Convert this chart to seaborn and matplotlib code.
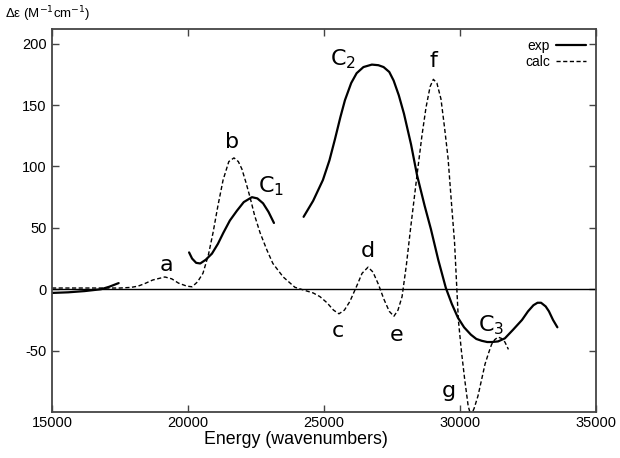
import numpy as np
import pandas as pd
import matplotlib
matplotlib.use("Agg")
import matplotlib.pyplot as plt
import seaborn as sns

# ---- data ----
exp_seg1_x = [15000, 15600, 16200, 16800, 17100, 17450]
exp_seg1_y = [-3, -2.5, -1.5, 0, 2, 5]

exp_seg2_x = [20040, 20150, 20300, 20450, 20650, 20880, 21100, 21300, 21540, 21800, 22050,
              22350, 22550, 22760, 22960, 23160]
exp_seg2_y = [30, 25, 21.5, 21, 24, 29, 37, 46, 56, 64, 71,
              75, 74, 70, 63, 54]

exp_seg3_x = [24250, 24600, 24960, 25200, 25400, 25600, 25770, 26000, 26200, 26450, 26760,
              27000, 27190, 27400, 27560, 27750, 27940, 28200, 28420, 28700, 28930, 29200,
              29480, 29700, 29920, 30150, 30400, 30600, 30800, 31000, 31170, 31400, 31650,
              31950, 32280, 32500, 32700, 32850, 32980, 33150, 33270, 33420, 33580]
exp_seg3_y = [59, 72, 89, 105, 122, 140, 154, 168, 176, 181, 183,
              182.5, 181, 177, 170, 158, 143, 118, 93, 68, 49, 24,
              1, -12, -23, -31, -37, -40.5, -42, -43, -43, -42.5, -40,
              -33, -25, -18, -13, -11, -11, -14, -18, -25, -31]

calc_x = [15000, 16000, 17000, 17500, 17900, 18160, 18400, 18700, 19150, 19400, 19650,
          19960, 20150, 20350, 20550, 20750, 20920, 21100, 21290, 21500, 21690, 21850,
          21980, 22130, 22280, 22450, 22650, 22900, 23120, 23500, 23930, 24300, 24600,
          24850, 25110, 25350, 25550, 25750, 25950, 26210, 26400, 26620, 26800, 27000,
          27200, 27400, 27570, 27720, 27870, 28030, 28180, 28420, 28600, 28750, 28900,
          29020, 29150, 29300, 29430, 29560, 29680, 29800, 29940, 30050, 30170, 30300,
          30400, 30520, 30660, 30800, 30920, 31050, 31160, 31280, 31400, 31520, 31650, 31780]
calc_y = [1, 1, 1, 1, 1.5, 2.5, 4.5, 7.5, 10, 8.5, 5,
          2.5, 2, 6, 13, 28, 46, 68, 89, 104, 107, 104,
          98, 87, 75, 60, 46, 32, 21, 10, 1.6, -1, -3,
          -6, -11, -17, -20, -17, -10, 3, 13, 18, 14, 4,
          -8, -18, -22, -17, -6, 20, 49, 93, 125, 148, 165,
          171, 168, 155, 132, 107, 72, 38, -25, -50, -73, -95,
          -103, -97, -87, -73, -61, -52, -45, -41, -39, -40, -43, -49]

xticks = [15000, 20000, 25000, 30000, 35000]
yticks = [-50, 0, 50, 100, 150, 200]

labels = ["a", "b", "C$_1$", "C$_2$", "f", "d", "c", "e", "g", "C$_3$"]
label_x = [19190, 21617, 23050, 25700, 29024, 26616, 25514, 27680, 29594, 31150]
label_y = [20, 120, 84, 187, 186, 31, -34, -37, -83, -29]

# ---- build frames ----
frames = []
for i, (xs, ys) in enumerate([(exp_seg1_x, exp_seg1_y), (exp_seg2_x, exp_seg2_y), (exp_seg3_x, exp_seg3_y)]):
    frames.append(pd.DataFrame({"energy": xs, "de": ys, "series": "exp", "seg": i}))
df_exp = pd.concat(frames, ignore_index=True)
df_calc = pd.DataFrame({"energy": calc_x, "de": calc_y, "series": "calc", "seg": 0})

sns.set_style("white")
plt.rcParams["font.family"] = ["Liberation Sans", "DejaVu Sans"]
plt.rcParams["mathtext.fontset"] = "dejavusans"
plt.rcParams["text.color"] = "black"
plt.rcParams["xtick.color"] = "#444444"
plt.rcParams["ytick.color"] = "#444444"
plt.rcParams["xtick.labelcolor"] = "black"
plt.rcParams["ytick.labelcolor"] = "black"
plt.rcParams["axes.labelcolor"] = "black"

fig = plt.figure(figsize=(6.2, 4.58), dpi=100)
ax = fig.add_axes([52 / 620, 1 - 412 / 458, (596 - 52) / 620, (412 - 29) / 458])

ax.axhline(0, color="black", lw=1.0, zorder=1)

sns.lineplot(data=df_exp, x="energy", y="de", units="seg", estimator=None, sort=False,
             color="black", lw=1.6, ax=ax, legend=False)
sns.lineplot(data=df_calc, x="energy", y="de", estimator=None, sort=False,
             color="black", lw=1.0, ax=ax, legend=False)
lines = ax.get_lines()
calc_line = lines[-1]
calc_line.set_dashes([3, 1.8])
exp_line = lines[1]

ax.set_xlim(15000, 35000)
ax.set_ylim(-100, 212)
ax.set_xticks(xticks)
ax.set_yticks(yticks)
ax.set_xticklabels([str(t) for t in xticks], fontsize=10.5)
ax.set_yticklabels([str(t) for t in yticks], fontsize=10.5)
ax.tick_params(direction="in", length=5, width=1,
               bottom=True, left=True, top=True, right=True,
               labeltop=False, labelright=False, pad=4)
ax.tick_params(axis="x", pad=3)
for s in ax.spines.values():
    s.set_color("#444444")
    s.set_linewidth(1.3)

ax.set_xlabel("Energy (wavenumbers)", fontsize=12.8)
ax.xaxis.set_label_coords((296 - 52) / 544, -(440 - 412) / 383, transform=ax.transAxes)
ax.xaxis.label.set_va("center")
ax.set_ylabel("")

fig.text(0.008, 1 - 14 / 458, "Δε (M$^{-1}$cm$^{-1}$)", fontsize=9.5, va="center", ha="left")

for t, x, y in zip(labels, label_x, label_y):
    ax.text(x, y, t, fontsize=16, ha="center", va="center", family="DejaVu Sans")

ax.legend([exp_line, calc_line], ["exp", "calc"], loc="upper right", frameon=False,
          markerfirst=False, fontsize=10, handlelength=2.2, handletextpad=0.4,
          borderaxespad=0.3, labelspacing=0.15)

fig.savefig("out.png", dpi=100)
